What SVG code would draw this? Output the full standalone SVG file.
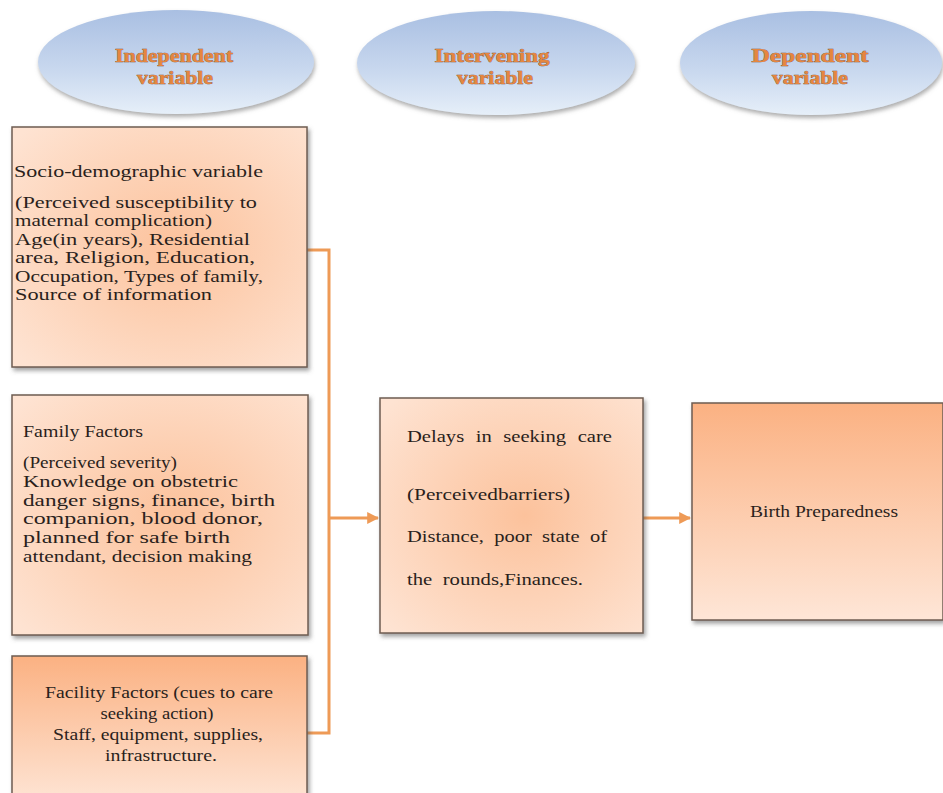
<svg xmlns="http://www.w3.org/2000/svg" width="943" height="793" viewBox="0 0 943 793">
<defs>
<linearGradient id="ellG" x1="0" y1="0" x2="0" y2="1">
<stop offset="0" stop-color="#a9bfe2"/>
<stop offset="0.6" stop-color="#cad9ef"/>
<stop offset="1" stop-color="#e6eff9"/>
</linearGradient>
<radialGradient id="boxR" cx="0.55" cy="0.5" r="0.7">
<stop offset="0" stop-color="#fcc29c"/>
<stop offset="1" stop-color="#fee3d2"/>
</radialGradient>
<linearGradient id="boxL" x1="0" y1="0" x2="0" y2="1">
<stop offset="0" stop-color="#fbb182"/>
<stop offset="1" stop-color="#fee6d7"/>
</linearGradient>
<filter id="sh" x="-10%" y="-10%" width="125%" height="125%">
<feDropShadow dx="2" dy="3" stdDeviation="2" flood-color="#555" flood-opacity="0.55"/>
</filter>
<filter id="esh" x="-10%" y="-10%" width="125%" height="130%">
<feDropShadow dx="1" dy="3" stdDeviation="2" flood-color="#777" flood-opacity="0.6"/>
</filter>
<marker id="arr" viewBox="0 0 10 10" refX="9" refY="5" markerWidth="4" markerHeight="4" orient="auto">
<path d="M0,0 L10,5 L0,10 z" fill="#ee9a56"/>
</marker>
<style>
.ell{fill:url(#ellG);filter:url(#esh);}
.hd{font-family:"Liberation Serif",serif;font-weight:bold;font-size:19px;fill:#e5863f;stroke:#7a4a2e;stroke-width:0.6;paint-order:stroke;text-anchor:middle;}
.bx{stroke:#6e5c52;stroke-width:1.5;filter:url(#sh);}
.t{font-family:"Liberation Serif",serif;font-size:16px;fill:#2a1f1c;}
.tm{font-family:"Liberation Serif",serif;font-size:16.5px;fill:#2a1f1c;text-anchor:middle;}
.con{fill:none;stroke:#ee9a56;stroke-width:3;}
</style>
</defs>
<rect width="943" height="793" fill="#ffffff"/>

<g id="ell-independent">
<ellipse class="ell" cx="176" cy="62" rx="138" ry="52"/>
<text class="hd" x="174" y="62" textLength="118" lengthAdjust="spacingAndGlyphs">Independent</text>
<text class="hd" x="175" y="84" textLength="76" lengthAdjust="spacingAndGlyphs">variable</text>
</g>
<g id="ell-intervening">
<ellipse class="ell" cx="496" cy="63" rx="139" ry="52"/>
<text class="hd" x="492" y="62" textLength="115" lengthAdjust="spacingAndGlyphs">Intervening</text>
<text class="hd" x="495" y="84" textLength="76" lengthAdjust="spacingAndGlyphs">variable</text>
</g>
<g id="ell-dependent">
<ellipse class="ell" cx="811" cy="63" rx="131" ry="52"/>
<text class="hd" x="810" y="62" textLength="117" lengthAdjust="spacingAndGlyphs">Dependent</text>
<text class="hd" x="810" y="84" textLength="76" lengthAdjust="spacingAndGlyphs">variable</text>
</g>

<g id="connectors">
<polyline class="con" points="307,250 329,250 329,733 307,733"/>
<line class="con" x1="329" y1="518" x2="378" y2="518" marker-end="url(#arr)"/>
<line class="con" x1="643" y1="518" x2="690" y2="518" marker-end="url(#arr)"/>
</g>

<g id="box-socio">
<rect class="bx" x="12" y="127" width="295" height="240" fill="url(#boxR)"/>
<text class="t" x="14" y="177" font-size="17.5" textLength="249" lengthAdjust="spacingAndGlyphs">Socio-demographic variable</text>
<text class="t" x="15" y="208" textLength="242" lengthAdjust="spacingAndGlyphs">(Perceived susceptibility to</text>
<text class="t" x="15" y="226" textLength="197" lengthAdjust="spacingAndGlyphs">maternal complication)</text>
<text class="t" x="15" y="245" textLength="235" lengthAdjust="spacingAndGlyphs">Age(in years), Residential</text>
<text class="t" x="15" y="263" textLength="240" lengthAdjust="spacingAndGlyphs">area, Religion, Education,</text>
<text class="t" x="15" y="282" textLength="248" lengthAdjust="spacingAndGlyphs">Occupation, Types of family,</text>
<text class="t" x="15" y="300" textLength="197" lengthAdjust="spacingAndGlyphs">Source of information</text>
</g>

<g id="box-family">
<rect class="bx" x="12" y="395" width="296" height="240" fill="url(#boxR)"/>
<text class="t" x="23" y="437" font-size="17" textLength="120" lengthAdjust="spacingAndGlyphs">Family Factors</text>
<text class="t" x="23" y="468" textLength="154" lengthAdjust="spacingAndGlyphs">(Perceived severity)</text>
<text class="t" x="23" y="487" textLength="215" lengthAdjust="spacingAndGlyphs">Knowledge on obstetric</text>
<text class="t" x="23" y="506" textLength="252" lengthAdjust="spacingAndGlyphs">danger signs, finance, birth</text>
<text class="t" x="23" y="524" textLength="240" lengthAdjust="spacingAndGlyphs">companion, blood donor,</text>
<text class="t" x="23" y="543" textLength="207" lengthAdjust="spacingAndGlyphs">planned for safe birth</text>
<text class="t" x="23" y="562" textLength="229" lengthAdjust="spacingAndGlyphs">attendant, decision making</text>
</g>

<g id="box-facility">
<rect class="bx" x="12" y="656" width="295" height="150" fill="url(#boxL)"/>
<text class="tm" x="159" y="698" textLength="228" lengthAdjust="spacingAndGlyphs">Facility Factors (cues to care</text>
<text class="tm" x="157" y="719" textLength="113" lengthAdjust="spacingAndGlyphs">seeking action)</text>
<text class="tm" x="158" y="740" textLength="210" lengthAdjust="spacingAndGlyphs">Staff, equipment, supplies,</text>
<text class="tm" x="161" y="761" textLength="112" lengthAdjust="spacingAndGlyphs">infrastructure.</text>
</g>

<g id="box-delays">
<rect class="bx" x="380" y="398" width="263" height="235" fill="url(#boxR)"/>
<text class="t" x="407" y="442" font-size="18" word-spacing="5" textLength="205" lengthAdjust="spacingAndGlyphs">Delays in seeking care</text>
<text class="t" x="407" y="500" font-size="18" textLength="163" lengthAdjust="spacingAndGlyphs">(Perceivedbarriers)</text>
<text class="t" x="407" y="542" font-size="18" word-spacing="4" textLength="200" lengthAdjust="spacingAndGlyphs">Distance, poor state of</text>
<text class="t" x="407" y="585" font-size="18" word-spacing="4" textLength="176" lengthAdjust="spacingAndGlyphs">the rounds,Finances.</text>
</g>

<g id="box-birth">
<rect class="bx" x="692" y="403" width="251" height="217" fill="url(#boxL)"/>
<text class="t" x="750" y="517" font-size="17" textLength="148" lengthAdjust="spacingAndGlyphs">Birth Preparedness</text>
</g>
</svg>
